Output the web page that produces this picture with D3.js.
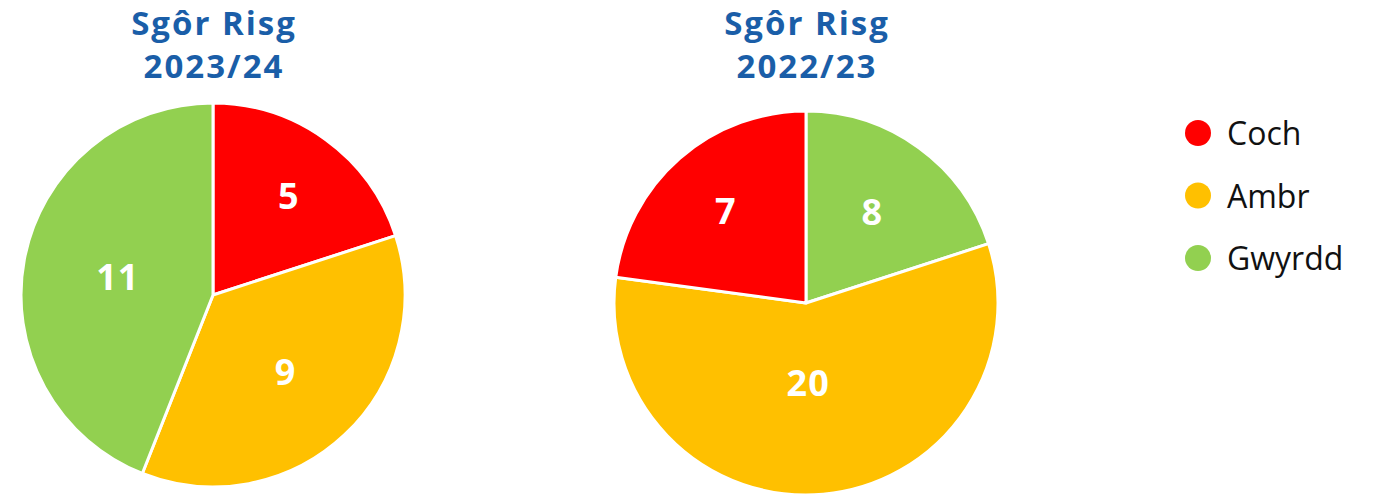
<!DOCTYPE html>
<html>
<head>
<meta charset="utf-8">
<script src="https://cdn.jsdelivr.net/npm/d3@7"></script>
<style>
body { margin: 0; background: #fff; }
svg { display: block; font-family: "Open Sans", "Noto Sans", sans-serif; }
.title { fill: #1a5ea8; font-weight: bold; font-size: 33px; letter-spacing: 2px; text-anchor: middle; }
.lbl { fill: #fff; font-weight: bold; font-size: 36px; letter-spacing: 1px; text-anchor: middle; }
.leg { fill: #111; font-size: 32px; }
</style>
</head>
<body>
<svg width="1373" height="497"></svg>
<script>
// categories and colours
const categories = ["Coch", "Ambr", "Gwyrdd"]
const colours = ["#ff0000", "#ffc000", "#92d050"]

// 2023/24 - slices drawn clockwise from 12 o'clock: Coch, Ambr, Gwyrdd
const order2324 = ["Coch", "Ambr", "Gwyrdd"]
const values2324 = [5, 9, 11]
const labels2324 = ["5", "9", "11"]

// 2022/23 - slices drawn clockwise from 12 o'clock: Gwyrdd, Ambr, Coch
// (slice sizes as drawn in the picture, labels as printed)
const order2223 = ["Gwyrdd", "Ambr", "Coch"]
const values2223 = [7, 20, 8]
const labels2223 = ["8", "20", "7"]

const titles = [["Sgôr Risg", "2023/24"], ["Sgôr Risg", "2022/23"]]

const svg = d3.select("svg")

const colour = d3.scaleOrdinal()
	.domain(categories)
	.range(colours)

const radius = 192

const pie = d3.pie()
	.sort(null)
	.value(d => d.value)

const arc = d3.arc()
	.innerRadius(0)
	.outerRadius(radius)

//draw one pie
function drawPie(cx, cy, order, values, labels, labelR, labelDx, title) {
	const data = order.map((c, i) => ({cat: c, value: values[i], label: labels[i]}))
	const g = svg.append("g")
		.attr("transform", `translate(${cx},${cy})`)

	g.selectAll("path")
		.data(pie(data))
		.enter()
		.append("path")
		.attr("d", arc)
		.attr("fill", d => colour(d.data.cat))
		.attr("stroke", "#fff")
		.attr("stroke-width", 3)
		.attr("stroke-linejoin", "round")

	g.selectAll("text.lbl")
		.data(pie(data))
		.enter()
		.append("text")
		.attr("class", "lbl")
		.attr("transform", (d, i) => {
			const a = (d.startAngle + d.endAngle) / 2
			return `translate(${Math.sin(a) * labelR[i] + labelDx[i]},${-Math.cos(a) * labelR[i]})`
		})
		.attr("dy", "0.36em")
		.text(d => d.data.label)

	svg.append("text")
		.attr("class", "title")
		.attr("x", cx + 1)
		.attr("y", 35)
		.text(title[0])
	svg.append("text")
		.attr("class", "title")
		.attr("x", cx + 1)
		.attr("y", 78)
		.text(title[1])
}

drawPie(213, 295, order2324, values2324, labels2324, [122, 106, 97], [4, 0, 0], titles[0])
drawPie(806, 303, order2223, values2223, labels2223, [113, 80, 122], [0, -5, 0], titles[1])

//legend
const leg = svg.selectAll("g.leg")
	.data(categories)
	.enter()
	.append("g")
	.attr("transform", (d, i) => `translate(1198,${133 + i * 62.5})`)

leg.append("circle")
	.attr("r", 13)
	.attr("fill", d => colour(d))

leg.append("text")
	.attr("class", "leg")
	.attr("x", 29)
	.attr("y", 12)
	.text(d => d)
</script>
</body>
</html>
